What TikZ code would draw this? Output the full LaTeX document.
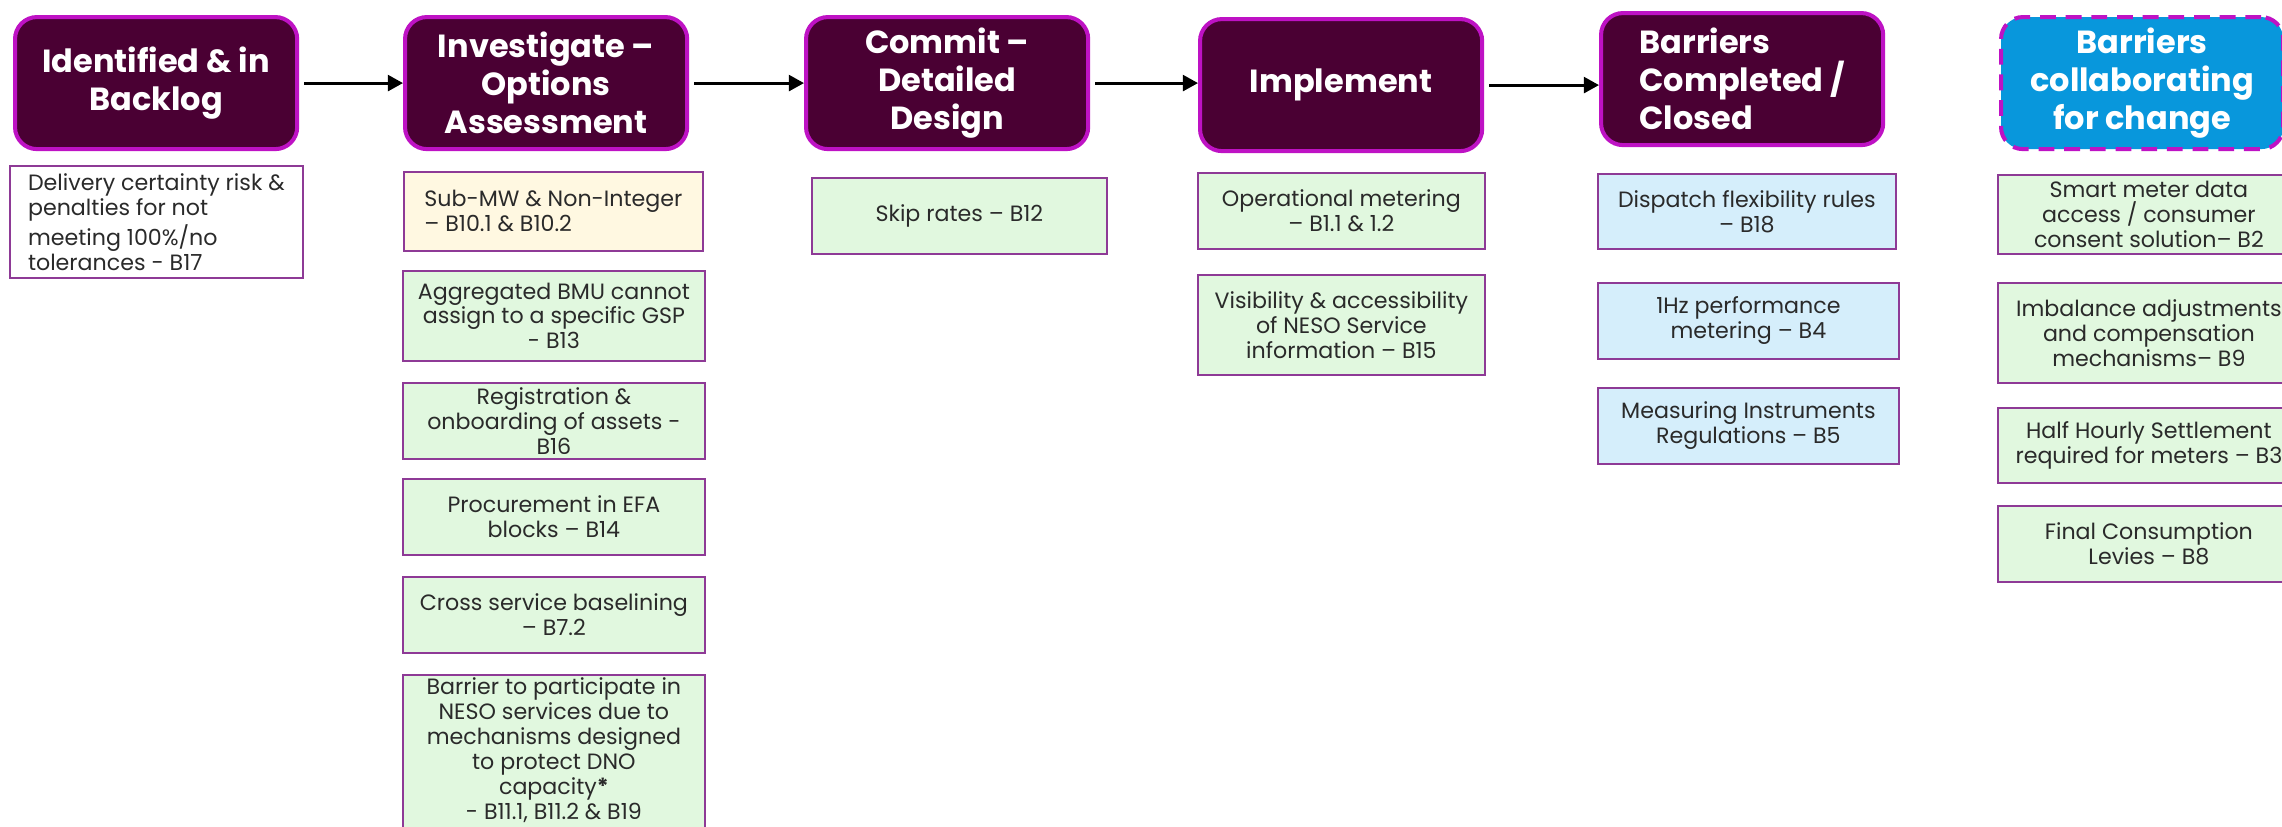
\documentclass[tikz,border=0pt]{standalone}
\usepackage{fontspec}
\setmainfont{Poppins}
\usepackage{tikz}
\usetikzlibrary{arrows.meta}

\definecolor{stageFill}{HTML}{4A0033}
\definecolor{stageEdge}{HTML}{BE12C4}
\definecolor{collabFill}{HTML}{0897DC}
\definecolor{boxEdge}{HTML}{8E3A96}
\definecolor{greenFill}{HTML}{E1F8DF}
\definecolor{yellowFill}{HTML}{FFF8E1}
\definecolor{blueFill}{HTML}{D5EEFB}
\definecolor{textGrey}{HTML}{2A2A2A}

\tikzset{
    stage/.style={draw=stageEdge, line width=1.15pt, fill=stageFill, rounded corners=0.22cm,
        text=white, font=\bfseries\fontsize{9.1}{10.8}\selectfont, align=center,
        anchor=north west, inner sep=0pt, minimum width=2.82cm, minimum height=1.32cm},
    barrier/.style={draw=boxEdge, line width=0.45pt, fill=#1, text=textGrey,
        font=\fontsize{6.3}{7.1}\selectfont, align=center, anchor=north west, inner sep=0pt},
    flow/.style={-{Triangle[length=4.3pt, width=4.5pt]}, line width=0.85pt, black,
        shorten <=0.05cm},
}

\begin{document}
\begin{tikzpicture}[x=0.01cm, y=-0.01cm]
        \useasboundingbox (0,0) rectangle (2282,826);
        \clip (0,0) rectangle (2282,826);

        % Stages along the top
        \node[stage] (ident) at (13,15) {Identified \& in\\Backlog};
        \node[stage] (invest) at (403,15) {Investigate –\\Options\\Assessment};
        \node[stage] (commit) at (804,15) {Commit –\\Detailed\\Design};
        \node[stage] (implem) at (1198,17) {Implement};
        \node[stage, align=left] (closed) at (1599,11) {Barriers\\Completed /\\Closed};
        \node[stage, fill=collabFill, dash pattern=on 4.5pt off 2.8pt] (collab) at (1999,15) {Barriers\\collaborating\\for change};

        % Flow between stages
        \draw[flow] (ident.east) -- (ident.east -| invest.west);
        \draw[flow] (invest.east) -- (invest.east -| commit.west);
        \draw[flow] (commit.east) -- (commit.east -| implem.west);
        \draw[flow] (implem.east) -- (implem.east -| closed.west);

        % Backlog
        \node[barrier=white, minimum width=2.93cm, minimum height=1.12cm, align=left] (delivery) at (9,165) {Delivery certainty risk \&\\penalties for not\\meeting 100\%/no\\tolerances - B17};

        % Options assessment
        \node[barrier=yellowFill, minimum width=2.99cm, minimum height=0.79cm, align=left] (submw) at (403,171) {Sub-MW \& Non-Integer\\– B10.1 \& B10.2};
        \node[barrier=greenFill, minimum width=3.02cm, minimum height=0.90cm] (aggbmu) at (402,270) {Aggregated BMU cannot\\assign to a specific GSP\\- B13};
        \node[barrier=greenFill, minimum width=3.02cm, minimum height=0.76cm] (onboard) at (402,382) {Registration \&\\onboarding of assets -\\B16};
        \node[barrier=greenFill, minimum width=3.02cm, minimum height=0.76cm] (efa) at (402,478) {Procurement in EFA\\blocks – B14};
        \node[barrier=greenFill, minimum width=3.02cm, minimum height=0.76cm] (baseline) at (402,576) {Cross service baselining\\– B7.2};
        \node[barrier=greenFill, minimum width=3.02cm, minimum height=1.72cm] (dnocap) at (402,674) {Barrier to participate in\\NESO services due to\\mechanisms designed\\to protect DNO\\capacity\textbf{*}\\- B11.1, B11.2 \& B19\\~};

        % Detailed design
        \node[barrier=greenFill, minimum width=2.95cm, minimum height=0.76cm] (skip) at (811,177) {Skip rates – B12};

        % Implement
        \node[barrier=greenFill, minimum width=2.87cm, minimum height=0.76cm] (opmeter) at (1197,172) {Operational metering\\– B1.1 \& 1.2};
        \node[barrier=greenFill, minimum width=2.87cm, minimum height=1.00cm] (visible) at (1197,274) {Visibility \& accessibility\\of NESO Service\\information – B15};

        % Completed / closed
        \node[barrier=blueFill, minimum width=2.98cm, minimum height=0.75cm] (dispatch) at (1597,173) {Dispatch flexibility rules\\– B18};
        \node[barrier=blueFill, minimum width=3.01cm, minimum height=0.76cm] (onehz) at (1597,282) {1Hz performance\\metering – B4};
        \node[barrier=blueFill, minimum width=3.01cm, minimum height=0.76cm] (measure) at (1597,387) {Measuring Instruments\\Regulations – B5};

        % Collaborating for change
        \node[barrier=greenFill, minimum width=3.02cm, minimum height=0.79cm] (smart) at (1997,174) {Smart meter data\\access / consumer\\consent solution– B2};
        \node[barrier=greenFill, minimum width=3.02cm, minimum height=1.00cm] (imbal) at (1997,282) {Imbalance adjustments\\and compensation\\mechanisms– B9};
        \node[barrier=greenFill, minimum width=3.02cm, minimum height=0.75cm] (halfhh) at (1997,407) {Half Hourly Settlement\\required for meters – B3};
        \node[barrier=greenFill, minimum width=3.02cm, minimum height=0.76cm] (levies) at (1997,505) {Final Consumption\\Levies – B8};
    \end{tikzpicture}
\end{document}
